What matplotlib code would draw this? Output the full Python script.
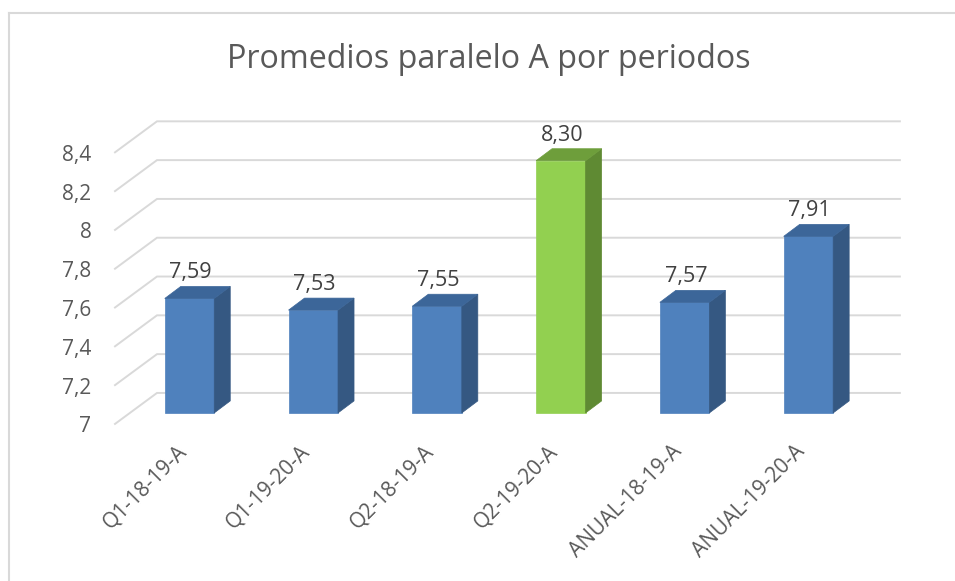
import numpy as np
import matplotlib
matplotlib.use("Agg")
import matplotlib.pyplot as plt
from matplotlib.patches import Polygon
from matplotlib.lines import Line2D

# ============================================================
# DATA
# ============================================================
categories = ["Q1-18-19-A", "Q1-19-20-A", "Q2-18-19-A", "Q2-19-20-A",
              "ANUAL-18-19-A", "ANUAL-19-20-A"]
values = [7.59, 7.53, 7.55, 8.30, 7.57, 7.91]
value_labels = ["7,59", "7,53", "7,55", "8,30", "7,57", "7,91"]
yticks = [7.0, 7.2, 7.4, 7.6, 7.8, 8.0, 8.2, 8.4]
ytick_labels = ["7", "7,2", "7,4", "7,6", "7,8", "8", "8,2", "8,4"]
highlight = 3
title = "Promedios paralelo A por periodos"

# ============================================================
# STYLE
# ============================================================
plt.rcParams["font.family"] = ["Open Sans", "DejaVu Sans"]
W, H = 955, 581
grid_col = "#D9D9D9"
text_col = "#595959"
label_col = "#404040"
blue = ("#4F81BD", "#355882", "#3C6699")     # front, side, top
green = ("#92D050", "#5F8A33", "#6E9E3B")

y0 = 7.0
bar_w = 0.40
# pixel -> data scale of the bar plane
px_x = 1 / 123.8
px_y = 1 / 194.0
ddx, ddy = 16 * px_x, 12 * px_y           # bar depth
bx, by = 27 * px_x, 20 * px_y             # bar plane -> back wall
fx, fy = -15 * px_x, -11 * px_y           # bar plane -> front floor edge
left_x = -0.5 + (115 - 127.6) * px_x
right_x = -0.5 + (900 - 127.6) * px_x

fig = plt.figure(figsize=(W / 100, H / 100), dpi=100)
ax = fig.add_axes([127.6 / W, (H - 430) / H, 742.7 / W, 330 / H])
ax.set_xlim(-0.5, 5.5)
ax.set_ylim(6.912, 8.613)
ax.axis("off")

# gridlines: diagonal on the side wall + horizontal on back wall
for v, lab in zip(yticks, ytick_labels):
    ax.plot([left_x, left_x + (bx - fx), right_x],
            [v + fy, v + by, v + by],
            color=grid_col, lw=1.4, zorder=1, clip_on=False,
            solid_joinstyle="miter")
    ax.text(left_x - 0.19, v + fy - 3 * px_y, lab, ha="right", va="center",
            fontsize=15, color=text_col, clip_on=False)

# 3D-looking bars
for i, v in enumerate(values):
    front, side, top = green if i == highlight else blue
    l, r = i - bar_w / 2, i + bar_w / 2
    ax.bar(i, v - y0, bottom=y0, width=bar_w, color=front, zorder=3,
           edgecolor=front, linewidth=0.5)
    ax.add_patch(Polygon([(r, y0), (r + ddx, y0 + ddy), (r + ddx, v + ddy), (r, v)],
                         closed=True, facecolor=side, edgecolor=side, lw=0.5, zorder=3))
    ax.add_patch(Polygon([(l, v), (r, v), (r + ddx, v + ddy), (l + ddx, v + ddy)],
                         closed=True, facecolor=top, edgecolor=top, lw=0.5, zorder=3))
    ax.text(i + 0.01, v + ddy + 8 * px_y, value_labels[i], ha="center",
            va="baseline", fontsize=15.5, color=label_col, zorder=4)
    ax.text(i + 0.01, y0 - 28 * px_y, categories[i], ha="right", va="top",
            rotation=45, fontsize=15, color=text_col, clip_on=False)

fig.text(488.5 / W, 1 - 68 / H, title, ha="center", va="baseline",
         fontsize=23.2, color=text_col)

# chart area border (cropped screenshot: only top and left visible)
fig.add_artist(Line2D([8.5 / W, 1.0], [1 - 13 / H, 1 - 13 / H],
                      color=grid_col, lw=1.5, transform=fig.transFigure))
fig.add_artist(Line2D([8.5 / W, 8.5 / W], [0, 1 - 13 / H],
                      color=grid_col, lw=1.5, transform=fig.transFigure))

fig.savefig("out.png", dpi=100, facecolor="white")
